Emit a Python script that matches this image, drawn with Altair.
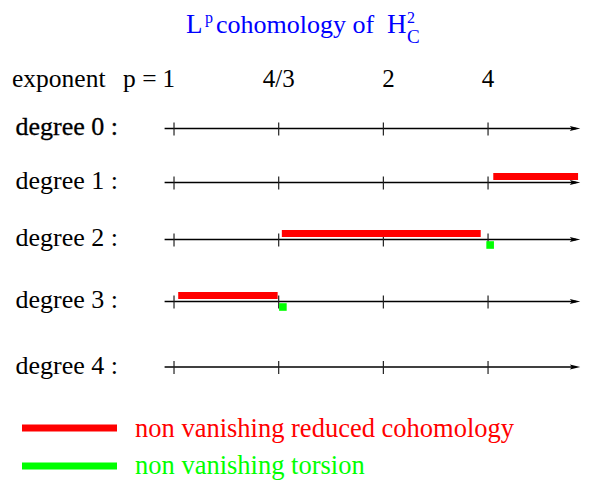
import altair as alt
import pandas as pd

# ---------------- data ----------------
DEGREE_LABELS = ["degree 0 :", "degree 1 :", "degree 2 :", "degree 3 :", "degree 4 :"]
P_LABELS = ["1", "4/3", "2", "4"]
P_INDEX = [0, 1, 2, 3]
RED_DEGREE = [1, 2, 3]
RED_START = [3.05, 1.03, 0.04]
RED_END = [3.86, 2.93, 0.99]
GREEN_DEGREE = [2, 3]
GREEN_POS = [3.02, 1.04]
LEGEND_TEXT = ["non vanishing reduced cohomology", "non vanishing torsion"]
LEGEND_COLOR = ["#ff0000", "#00ff00"]

# ---------------- layout (chart pixels) ----------------
W, H = 573, 469
ROW_Y = [120.5, 174.5, 231.5, 293.5, 359]
X_DOMAIN = [-1.586, 3.888]
AXIS_START, AXIS_END = -0.09, 3.84
ARROW_POS = 3.831
P_LABEL_X = [-0.05, 1.0, 2.05, 3.0]
FONT = "Liberation Serif"
BLUE = "#0000ff"

xscale = alt.Scale(domain=X_DOMAIN, range=[0, W], nice=False, zero=False)

axes_df = pd.DataFrame({"y": ROW_Y, "x": [AXIS_START] * 5, "x2": [AXIS_END] * 5, "arrow": [ARROW_POS] * 5})
ticks_df = pd.DataFrame([{"x": p, "y": r - 6, "y2": r + 7} for r in ROW_Y for p in P_INDEX])
deg_df = pd.DataFrame({"label": DEGREE_LABELS, "y": [r + 6.5 for r in ROW_Y],
                       "sw": [0.3, 0, 0, 0, 0]})
red_df = pd.DataFrame({"x": RED_START, "x2": RED_END, "y": [ROW_Y[d] - 6 for d in RED_DEGREE]})
green_df = pd.DataFrame({"x": GREEN_POS, "y": [ROW_Y[d] + 5.5 for d in GREEN_DEGREE]})
plab_df = pd.DataFrame({"label": P_LABELS, "x": P_LABEL_X})
legend_df = pd.DataFrame({"text": LEGEND_TEXT, "color": LEGEND_COLOR, "y": [420, 458],
                          "ty": [428.5, 465.5]})

X = lambda f: alt.X(f, type="quantitative", scale=xscale, axis=None)
Y = lambda f: alt.Y(f, type="quantitative", scale=None, axis=None)

axis_lines = alt.Chart(axes_df).mark_rule(color="#000000", strokeWidth=1.3).encode(
    x=X("x"), x2="x2", y=Y("y"))
arrows = alt.Chart(axes_df).mark_point(
    shape="M1,0L-1,-0.5L-0.6,0L-1,0.5Z", size=110, filled=True, color="#000000", opacity=1
).encode(x=X("arrow"), y=Y("y"))
ticks = alt.Chart(ticks_df).mark_rule(color="#222222", strokeWidth=1.2).encode(
    x=X("x"), y=Y("y"), y2="y2")
reds = alt.Chart(red_df).mark_rule(color="#ff0000", strokeWidth=7, strokeCap="butt").encode(
    x=X("x"), x2="x2", y=Y("y"))
greens = alt.Chart(green_df).mark_square(color="#00ff00", size=58, opacity=1).encode(
    x=X("x"), y=Y("y"))
deg_text = alt.Chart(deg_df).mark_text(
    align="left", baseline="alphabetic", font=FONT, fontSize=26, color="#000000", stroke="#000000"
).encode(x=alt.value(7.5), y=Y("y"), text="label:N",
         strokeWidth=alt.StrokeWidth("sw:Q", scale=None))
p_text = alt.Chart(plab_df).mark_text(
    align="center", baseline="alphabetic", font=FONT, fontSize=25, color="#000000"
).encode(x=X("x"), y=alt.value(79), text="label:N")

one = alt.Data(values=[{"a": 1}])


def txt(s, x, y, size, color="#000000", align="left"):
    return alt.Chart(one).mark_text(
        text=s, align=align, baseline="alphabetic", font=FONT, fontSize=size, color=color
    ).encode(x=alt.value(x), y=alt.value(y))


header = txt("exponent", 4, 79, 25.5) + txt("p =", 115, 79, 25.5)
title = (
    txt("L", 178, 25, 27, BLUE)
    + txt("p", 197, 15, 16, BLUE)
    + txt("cohomology of", 208, 25, 26, BLUE)
    + txt("H", 379, 25, 27, BLUE)
    + txt("2", 399, 15, 16, BLUE)
    + txt("C", 399, 35, 19, BLUE)
)

leg_lines = alt.Chart(legend_df).mark_rule(strokeWidth=7, strokeCap="butt").encode(
    x=alt.value(14), x2=alt.value(109), y=Y("y"),
    color=alt.Color("color:N", scale=None))
leg_text = alt.Chart(legend_df).mark_text(
    align="left", baseline="alphabetic", font=FONT, fontSize=26.5
).encode(x=alt.value(127), y=Y("ty"), text="text:N", color=alt.Color("color:N", scale=None))

chart = alt.layer(
    axis_lines, ticks, arrows, reds, greens, deg_text, p_text, header, title, leg_lines, leg_text
).properties(
    width=W, height=H,
    padding={"left": 0, "top": 0, "right": 0, "bottom": 8},
    autosize=alt.AutoSizeParams(type="none")
).configure_view(stroke=None)

chart.save("out.html", embed_options={"renderer": "svg", "actions": False})
